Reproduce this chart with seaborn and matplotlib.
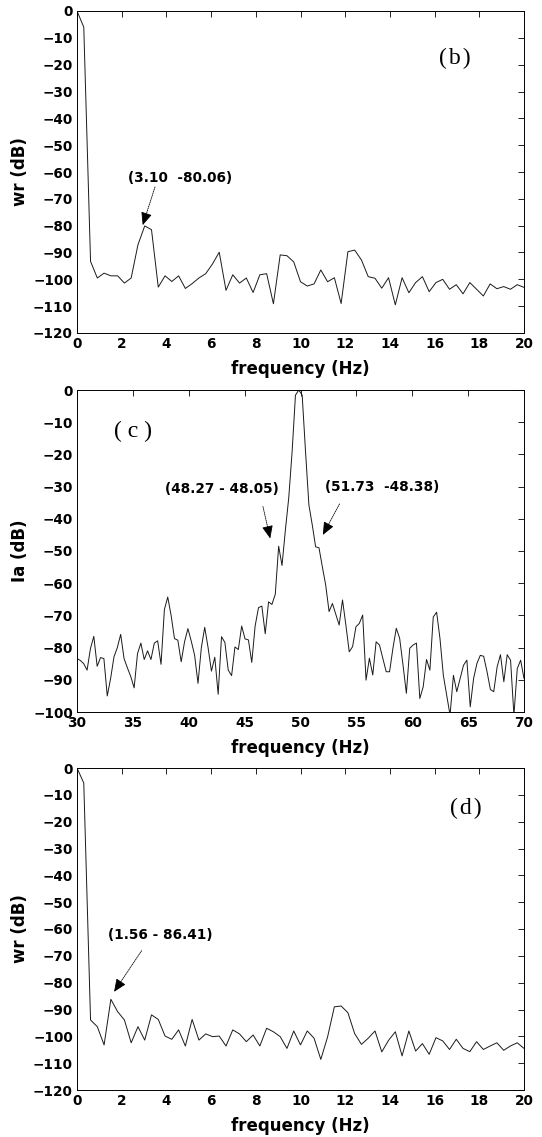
import numpy as np
import pandas as pd
import matplotlib
matplotlib.use("Agg")
import matplotlib.pyplot as plt
import seaborn as sns

# ---------------- data ----------------
wr_b_db = [0, -6, -93.3, -99.5, -97.7, -98.7, -98.7, -101.4, -99.5, -87.1, -80.1, -81.5,
           -102.9, -98.7, -100.8, -98.7, -103.4, -101.6, -99.5, -97.9, -94.3, -89.9,
           -104.1, -98.3, -101.4, -99.5, -104.9, -98.3, -97.9, -109.1, -90.9, -91.2,
           -93.5, -100.9, -102.5, -101.7, -96.5, -100.9, -99.4, -109, -89.7, -89.1,
           -92.8, -99, -99.6, -103.3, -99.4, -109.5, -99.4, -105, -101.2, -99, -104.6,
           -101.2, -100, -103.7, -102, -105.4, -101.2, -103.7, -106.2, -101.7, -103.5,
           -102.7, -103.7, -102, -103]
freq_b = np.linspace(0, 20, len(wr_b_db))

ia_c_db = [-83.4, -84, -85, -87, -80.3, -76.5, -85.8, -83.1, -83.4, -95, -89.6, -82.9,
           -80, -75.9, -83.4, -86.3, -89, -92.5, -81.9, -78.6, -83.7, -81, -83.7, -78.6,
           -77.9, -85.2, -68.2, -64.3, -70, -77.2, -77.7, -84.4, -78.2, -74.1,
           -78, -82.4, -91.1, -80, -73.7, -80, -87.3, -83, -94.5, -76.6, -78.4, -87,
           -88.7, -79.8, -80.6, -73.3, -77.3, -77.6, -84.6, -73.3, -67.6, -67.1, -75.7,
           -65.8, -66.6, -63.4, -48.5, -54.5, -43.5, -33.5, -19.2, -1.6, 0, -1.6, -19.2,
           -35.7, -41.9, -48.7, -49, -54.9, -60.6, -68.8, -66.3, -69.7, -73, -65.2, -73,
           -81.3, -79.7, -73.5, -72.5, -69.9, -90.1, -83.3, -88.5, -78.2, -79.2, -83.3,
           -87.5, -87.5, -80.2, -74, -77.1, -85.4, -94.2, -80.2, -79.2, -78.6, -95.8,
           -92.2, -83.7, -87, -70.5, -69, -77.2, -88.6, -94.7, -101, -88.6, -93.7, -89.6,
           -85.5, -83.9, -98.4, -89.6, -84.9, -82.4, -82.7, -87.5, -93, -93.7, -86,
           -82.2, -90.6, -82.2, -83.9, -101, -86.5, -83.9, -89.6]
freq_c = np.linspace(30, 70, len(ia_c_db))

wr_d_db = [0, -5.6, -93.9, -96.4, -103.2, -86.2, -90.8, -93.9, -102.4, -96.4, -101.4, -92,
           -93.7, -99.9, -101.1, -97.6, -103.6, -93.7, -101.4, -99.1, -100.1, -99.9,
           -103.6, -97.6, -99.1, -102, -99.5, -103.6, -97, -98.3, -100.1, -104.5,
           -98, -103.2, -98, -100.7, -108.6, -100.2, -89, -88.7, -91.2, -99, -103, -100.7,
           -98, -105.8, -101.5, -98.3, -107.3, -98, -105.5, -102.7, -106.7, -100.5,
           -101.7, -104.9, -101.1, -104.5, -105.7, -102, -104.9, -103.6, -102.4, -105.2,
           -103.6, -102.4, -104.5]
freq_d = np.linspace(0, 20, len(wr_d_db))

panel_tags = ["(\u200ab\u200a)", "( c )", "(\u200ad\u200a)"]
y_labels = ["wr (dB)", "Ia (dB)", "wr (dB)"]
x_label = "frequency (Hz)"
notes_b = ["(3.10  -80.06)"]
notes_c = ["(48.27 - 48.05)", "(51.73  -48.38)"]
notes_d = ["(1.56 - 86.41)"]

# ---------------- style ----------------
sns.set_theme(style="white")
plt.rcParams['font.family'] = ['DejaVu Sans']
plt.rcParams['axes.edgecolor'] = 'black'
plt.rcParams['axes.linewidth'] = 0.7

W, H = 542, 1137
fig = plt.figure(figsize=(W / 100, H / 100), dpi=100)
fig.patch.set_facecolor('white')

def frac_box(left, top, right, bottom):
    return [left / W, 1 - bottom / H, (right - left) / W, (bottom - top) / H]

ax_b = fig.add_axes(frac_box(77, 11, 524, 333))
ax_c = fig.add_axes(frac_box(77, 390, 524, 712))
ax_d = fig.add_axes(frac_box(77, 768, 524, 1090))

SERIF = ['Liberation Serif', 'DejaVu Serif']

def style_axes(ax, xlim, ylim, xticks, yticks, ylabel):
    ax.set_xlim(*xlim)
    ax.set_ylim(*ylim)
    ax.set_xticks(xticks)
    ax.set_yticks(yticks)
    ax.tick_params(direction='in', top=True, right=True, length=4, width=0.6,
                   labelsize=9.8, colors='black', pad=3)
    for lab in ax.get_xticklabels() + ax.get_yticklabels():
        lab.set_fontweight('bold')
    for sp in ax.spines.values():
        sp.set_visible(True)
        sp.set_color('black')
        sp.set_linewidth(0.7)
    ax.set_xlabel(x_label, fontsize=12, fontweight='bold', color='black')
    ax.set_ylabel(ylabel, fontsize=12, fontweight='bold', color='black')
    ax.xaxis.label.set_va('center')
    ax.yaxis.label.set_va('center')
    ax.xaxis.set_label_coords(0.5, -0.112)
    ax.yaxis.set_label_coords(-0.127, 0.5)

def arrow(ax, start, tip):
    ax.annotate('', xy=tip, xytext=start,
                arrowprops=dict(arrowstyle='-', linestyle=(0, (1.2, 1.2)), lw=0.6,
                                color='black', shrinkA=0, shrinkB=4))
    dx = tip[0] - start[0]
    dy = tip[1] - start[1]
    ax.annotate('', xy=tip, xytext=(tip[0] - dx * 0.22, tip[1] - dy * 0.22),
                arrowprops=dict(arrowstyle='-|>,head_length=0.65,head_width=0.28',
                                lw=0.6, color='black', fc='black',
                                shrinkA=0, shrinkB=0))

line_kw = dict(color='#1a1a1a', linewidth=0.7, estimator=None, sort=False)
note_kw = dict(fontsize=9.8, fontweight='bold', ha='center', va='center', color='black')

# panel b
sns.lineplot(x=freq_b, y=wr_b_db, ax=ax_b, **line_kw)
style_axes(ax_b, (0, 20), (-120, 0), range(0, 21, 2), range(-120, 1, 10), y_labels[0])
ax_b.text(16.9, -17.5, panel_tags[0], fontsize=17, family=SERIF,
          ha='center', va='center', color='black')
ax_b.text(4.6, -62.2, notes_b[0], **note_kw)
arrow(ax_b, (3.49, -65.6), (2.94, -79.8))

# panel c
sns.lineplot(x=freq_c, y=ia_c_db, ax=ax_c, **line_kw)
style_axes(ax_c, (30, 70), (-100, 0), range(30, 71, 5), range(-100, 1, 10), y_labels[1])
ax_c.text(35.0, -13, panel_tags[1], fontsize=17, family=SERIF,
          ha='center', va='center', color='black')
ax_c.text(42.95, -30.6, notes_c[0], **note_kw)
ax_c.text(57.26, -30.0, notes_c[1], **note_kw)
arrow(ax_c, (46.64, -36.2), (47.29, -46.1))
arrow(ax_c, (53.49, -35.4), (52.0, -45.0))

# panel d
sns.lineplot(x=freq_d, y=wr_d_db, ax=ax_d, **line_kw)
style_axes(ax_d, (0, 20), (-120, 0), range(0, 21, 2), range(-120, 1, 10), y_labels[2])
ax_d.text(17.4, -14.9, panel_tags[2], fontsize=17, family=SERIF,
          ha='center', va='center', color='black')
ax_d.text(3.71, -62.2, notes_d[0], **note_kw)
arrow(ax_d, (2.89, -68.1), (1.66, -83.4))

fig.savefig('out.png', dpi=100, facecolor='white')
